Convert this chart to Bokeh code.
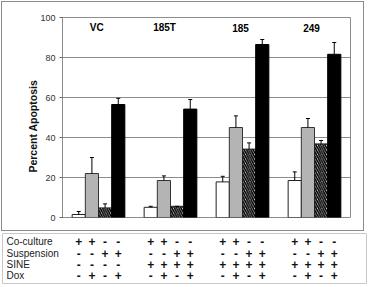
from bokeh.plotting import figure
from bokeh.models import Range1d, ColumnDataSource, FixedTicker
from bokeh.embed import file_html
from bokeh.resources import INLINE
from bokeh.core.properties import value

# ---------------- data ----------------
groups = ["VC", "185T", "185", "249"]
cocult = [1.5, 5.1, 17.8, 18.5]
cocult_err = [1.5, 0.5, 2.8, 4.3]
cocult_dox = [22.0, 18.5, 45.0, 45.0]
cocult_dox_err = [8.0, 2.3, 5.8, 4.5]
susp = [4.8, 5.6, 34.2, 36.8]
susp_err = [2.0, 0.0, 3.1, 1.7]
susp_dox = [56.5, 54.2, 86.5, 81.6]
susp_dox_err = [3.1, 4.8, 2.5, 5.9]

y_ticks = [0, 20, 40, 60, 80, 100]
y_label = "Percent Apoptosis"

row_names = ["Co-culture", "Suspension", "SINE", "Dox"]
row_coculture = ["+", "+", "-", "-", "+", "+", "-", "-", "+", "+", "-", "-", "+", "+", "-", "-"]
row_suspension = ["-", "-", "+", "+", "-", "-", "+", "+", "-", "-", "+", "+", "-", "-", "+", "+"]
row_sine = ["-", "-", "-", "-", "+", "+", "+", "+", "+", "+", "+", "+", "+", "+", "+", "+"]
row_dox = ["-", "+", "-", "+", "-", "+", "-", "+", "-", "+", "-", "+", "-", "+", "-", "+"]

# ---------------- styles ----------------
FONT = "Liberation Sans"
BAR_W = 0.183
SLOT = [-1.5, -0.5, 0.5, 1.5]
LABEL_SHIFT = [-0.024, -0.083, -0.028, -0.042]
GRID = "#8c8c8c"
PX_PER_UNIT = 72.0
FRAME_LEFT_PX = 62.0
LABEL_PAD = "\u00a0" * 6   # shifts the rotated axis title downwards

series = [
    (cocult, cocult_err, dict(fill_color="white", line_color="#222222")),
    (cocult_dox, cocult_dox_err, dict(fill_color="#b4b4b4", line_color="#333333")),
    (susp, susp_err, dict(fill_color="white", line_color="#222222",
                          hatch_pattern="\\", hatch_color="black",
                          hatch_scale=4.5, hatch_weight=1.6)),
    (susp_dox, susp_dox_err, dict(fill_color="black", line_color="black")),
]

top = figure(width=363, height=230, x_range=Range1d(0, len(groups)),
             y_range=Range1d(0, 100), output_backend="svg",
             toolbar_location=None, x_axis_location=None,
             min_border_left=60, min_border_right=15,
             min_border_top=15, min_border_bottom=15)
top.styles = {"border": "1px solid #8c8c8c", "margin-left": "1px", "margin-top": "1px"}
top.outline_line_color = GRID
top.xgrid.visible = False
top.ygrid.grid_line_color = GRID
top.ygrid.ticker = FixedTicker(ticks=y_ticks)
ax = top.yaxis[0]
ax.ticker = FixedTicker(ticks=y_ticks)
ax.axis_line_color = GRID
ax.major_tick_line_color = "#666666"
ax.major_tick_out = 3
ax.major_tick_in = 0
ax.minor_tick_line_color = None
ax.major_label_standoff = 4
ax.major_label_text_font = FONT
ax.major_label_text_font_size = "9px"
ax.major_label_text_color = "#333333"
ax.axis_label = y_label + LABEL_PAD
ax.axis_label_text_font = FONT
ax.axis_label_text_font_style = "bold"
ax.axis_label_text_font_size = "10.5px"
ax.axis_label_text_color = "#111111"
ax.axis_label_standoff = -2

for k, (vals, errs, st) in enumerate(series):
    xs = [i + 0.5 + SLOT[k] * BAR_W for i in range(len(groups))]
    tops = [v + e for v, e in zip(vals, errs)]
    src = ColumnDataSource(dict(x=xs, top=vals, etop=tops))
    top.vbar(x="x", top="top", bottom=0, width=BAR_W, line_width=1, source=src, **st)
    top.segment(x0="x", y0="top", x1="x", y1="etop", line_color="black",
                line_width=1, source=src)
    top.scatter(x="x", y="etop", marker="dash", size=4, line_color="black",
                line_width=1, source=src)

lab_src = ColumnDataSource(dict(x=[i + 0.5 + s for i, s in enumerate(LABEL_SHIFT)],
                                y=[95] * len(groups), t=groups))
top.text(x="x", y="y", text="t", source=lab_src, text_font=value(FONT),
         text_font_style="bold", text_font_size="10px", text_align="center",
         text_baseline="middle", text_color="black")

# ---------------- table (own root, frame spans the full width) ----------------
def px_to_unit(px):
    return (px - FRAME_LEFT_PX) / PX_PER_UNIT

bot = figure(width=368, height=53, x_range=Range1d(px_to_unit(2), px_to_unit(366)),
             y_range=Range1d(-0.658, 3.728), output_backend="svg",
             toolbar_location=None, x_axis_location=None, y_axis_location=None,
             min_border_left=2, min_border_right=2, min_border_top=2,
             min_border_bottom=1)
bot.outline_line_color = "#c8c8c8"
bot.grid.visible = False

rows = [row_coculture, row_suspension, row_sine, row_dox]
n_rows = len(rows)
names_src = ColumnDataSource(dict(x=[px_to_unit(6)] * n_rows,
                                  y=[n_rows - 1 - r for r in range(n_rows)],
                                  t=row_names))
bot.text(x="x", y="y", text="t", source=names_src, text_font=value(FONT),
         text_font_size="10px", text_align="left", text_baseline="middle",
         text_color="#222222")

mx, my, mt = [], [], []
for r, row in enumerate(rows):
    for j, sym in enumerate(row):
        g, k = divmod(j, 4)
        mx.append(g + 0.5 + SLOT[k] * BAR_W)
        my.append(n_rows - 1 - r)
        mt.append(sym)
bot.text(x="x", y="y", text="t", source=ColumnDataSource(dict(x=mx, y=my, t=mt)),
         text_font=value(FONT), text_font_style="bold", text_font_size="12px",
         text_align="center", text_baseline="middle", text_color="#111111")

open("out.html", "w").write(file_html([top, bot], INLINE))
